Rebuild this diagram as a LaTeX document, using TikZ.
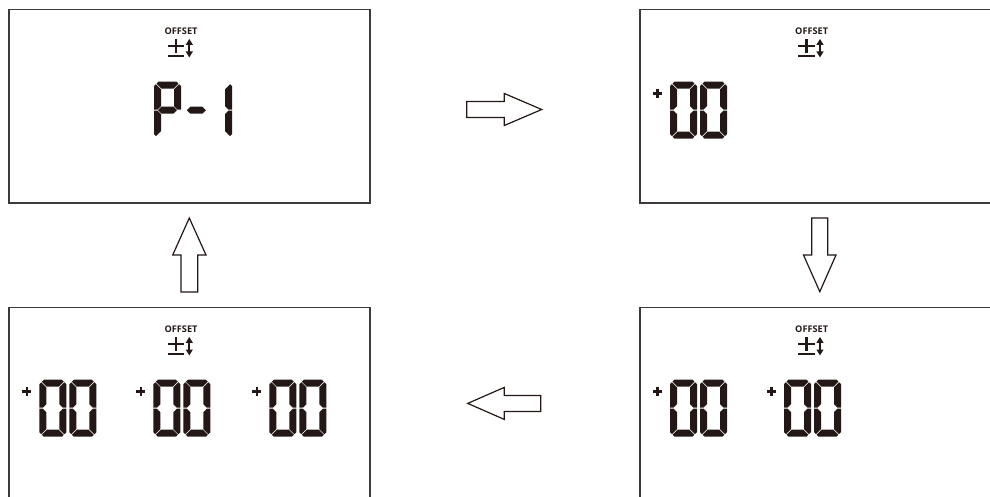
\documentclass[tikz,border=0pt]{standalone}
\usepackage{fontspec}
\newfontfamily\lcdlabel{Open Sans}
\usetikzlibrary{arrows.meta,positioning}
\definecolor{lcdink}{RGB}{35,24,21}
\definecolor{frameline}{RGB}{62,58,57}
% segment geometry (in px of the sketch)
\def\dW{27}\def\dH{57}\def\dT{7}\def\dC{4.5}\def\dD{0.6}\def\dS{0.5}\def\dM{28.5}
\tikzset{>=latex}
\tikzset{
  panel/.style={draw=frameline, line width=0.75pt, anchor=north west,
    minimum width=180.5pt, minimum height=96.75pt, inner sep=0pt},
  blockarrow/.style={draw=lcdink, line width=0.6pt, fill=white, line join=miter},
  offsettext/.style={inner sep=0pt, text=lcdink,
    font=\lcdlabel\bfseries\fontsize{4.6}{5}\selectfont},
  seg a/.pic={\fill[lcdink] (\dC,0) -- ({\dW-\dC},0) -- ({\dW-(\dC+\dD)/2},{(\dC-\dD)/2})
    -- ({\dW-\dT-\dD},\dT) -- ({\dT+\dD},\dT) -- ({(\dC+\dD)/2},{(\dC-\dD)/2}) -- cycle;},
  seg d/.pic={\fill[lcdink] (\dC,\dH) -- ({\dW-\dC},\dH) -- ({\dW-(\dC+\dD)/2},{\dH-(\dC-\dD)/2})
    -- ({\dW-\dT-\dD},{\dH-\dT}) -- ({\dT+\dD},{\dH-\dT}) -- ({(\dC+\dD)/2},{\dH-(\dC-\dD)/2}) -- cycle;},
  seg f/.pic={\fill[lcdink] (0,\dC) -- ({(\dC-\dD)/2},{(\dC+\dD)/2}) -- (\dT,{\dT+\dD})
    -- (\dT,{\dM-\dT/2-\dS}) -- ({\dT/2},{\dM-\dS}) -- (0,{\dM-\dS}) -- cycle;},
  seg e/.pic={\fill[lcdink] (0,{\dM+\dS}) -- ({\dT/2},{\dM+\dS}) -- (\dT,{\dM+\dT/2+\dS})
    -- (\dT,{\dH-\dT-\dD}) -- ({(\dC-\dD)/2},{\dH-(\dC+\dD)/2}) -- (0,{\dH-\dC}) -- cycle;},
  seg b/.pic={\fill[lcdink] (\dW,\dC) -- ({\dW-(\dC-\dD)/2},{(\dC+\dD)/2}) -- ({\dW-\dT},{\dT+\dD})
    -- ({\dW-\dT},{\dM-\dT/2-\dS}) -- ({\dW-\dT/2},{\dM-\dS}) -- (\dW,{\dM-\dS}) -- cycle;},
  seg c/.pic={\fill[lcdink] (\dW,{\dM+\dS}) -- ({\dW-\dT/2},{\dM+\dS}) -- ({\dW-\dT},{\dM+\dT/2+\dS})
    -- ({\dW-\dT},{\dH-\dT-\dD}) -- ({\dW-(\dC-\dD)/2},{\dH-(\dC+\dD)/2}) -- (\dW,{\dH-\dC}) -- cycle;},
  seg g/.pic={\fill[lcdink] ({\dT/2+\dS},\dM) -- ({\dT+\dS},{\dM-\dT/2}) -- ({\dW-\dT-\dS},{\dM-\dT/2})
    -- ({\dW-\dT/2-\dS},\dM) -- ({\dW-\dT-\dS},{\dM+\dT/2}) -- ({\dT+\dS},{\dM+\dT/2}) -- cycle;},
  lcd zero/.pic={\pic{seg a}; \pic{seg b}; \pic{seg c}; \pic{seg d}; \pic{seg e}; \pic{seg f};},
  lcd P/.pic={\pic{seg a}; \pic{seg b}; \pic{seg e}; \pic{seg f}; \pic{seg g};},
  lcd dash/.pic={\pic{seg g};},
  lcd one/.pic={\pic{seg b}; \pic{seg c};},
  lcd plus/.pic={\draw[lcdink, line width=1.3pt] (-4.6,0) -- (4.6,0) (0,-4.6) -- (0,4.6);},
  lcd pair/.pic={\pic at (-12.5,11.6) {lcd plus}; \pic at (0,0) {lcd zero}; \pic at (30,0) {lcd zero};},
  offset sign/.pic={
    \node[offsettext] (-tag) at (172.7,22.8) {OFFSET};
    \draw[lcdink, line width=1.25pt] (159.2,37.3) -- (175.8,37.3) (167.5,30.4) -- (167.5,44)
      (159.2,47.4) -- (175.8,47.4);
    \draw[lcdink, line width=1pt, {Triangle[width=3.4pt,length=3pt]}-{Triangle[width=3.4pt,length=3pt]}]
      (181,30.2) -- (181,48.8);
  },
}

\begin{document}
\begin{tikzpicture}[x=0.5pt, y=-0.5pt]
  \useasboundingbox (0,0) rectangle (990,497);
  \clip (0,0) rectangle (990,497);

  % the four screens
  \node[panel] (scrP) at (8.3,8.7) {};
  \node[panel] (scrA) at (639,8.7) {};
  \node[panel] (scrB) at (639,306.7) {};
  \node[panel] (scrC) at (8.3,306.7) {};

  \begin{scope}[shift={(scrP.north west)}]
    \pic (offP) {offset sign};
    \pic at (145.7,73) {lcd P};
    \pic at (174.5,73) {lcd dash};
    \pic at (196.7,73) {lcd one};
  \end{scope}

  \begin{scope}[shift={(scrA.north west)}]
    \pic (offA) {offset sign};
    \pic at (31,73) {lcd pair};
  \end{scope}

  \begin{scope}[shift={(scrB.north west)}]
    \pic (offB) {offset sign};
    \foreach \gx in {31,145}
      \pic at (\gx,73) {lcd pair};
  \end{scope}

  \begin{scope}[shift={(scrC.north west)}]
    \pic (offC) {offset sign};
    \foreach \gx in {31,145,261}
      \pic at (\gx,73) {lcd pair};
  \end{scope}

  % open block arrows between the screens
  \draw[blockarrow] (466.7,101.5) -- (504.3,101.5) -- (504.3,93.5) -- (541.7,109.5)
    -- (504.3,125.5) -- (504.3,117.5) -- (466.7,117.5) -- cycle;
  \draw[blockarrow] (811.7,218) -- (827.7,218) -- (827.7,255) -- (836,255)
    -- (819.8,291.7) -- (803.5,255) -- (811.7,255) -- cycle;
  \draw[blockarrow] (540.7,395.5) -- (504.3,395.5) -- (504.3,387.4) -- (467.7,403.4)
    -- (504.3,419.4) -- (504.3,411.4) -- (540.7,411.4) -- cycle;
  \draw[blockarrow] (180.9,292) -- (180.9,255) -- (172.7,255) -- (189.3,218)
    -- (206,255) -- (197.7,255) -- (197.7,292) -- cycle;
\end{tikzpicture}
\end{document}
